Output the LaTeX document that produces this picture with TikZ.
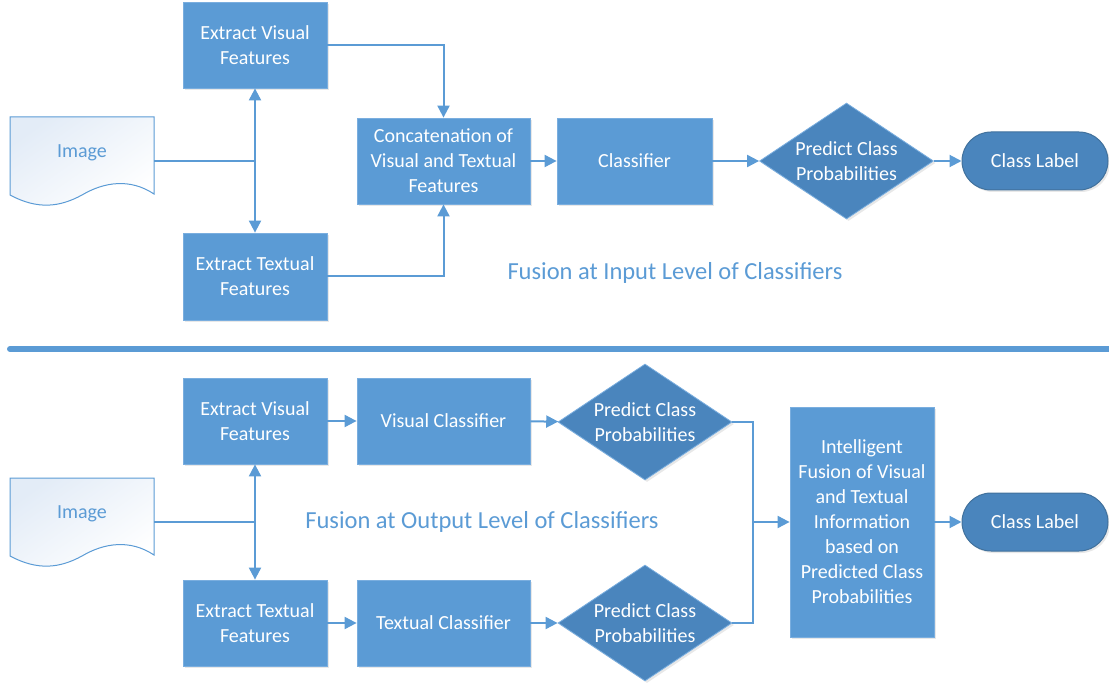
\documentclass[tikz,border=0pt]{standalone}
\usepackage{fontspec}
\setmainfont{Carlito}
\usetikzlibrary{arrows.meta,shapes.geometric,shadows}
\definecolor{boxblue}{HTML}{5B9BD5}
\definecolor{boxedge}{HTML}{7AAEDF}
\definecolor{darkblue}{HTML}{4A85BD}
\definecolor{darkedge}{HTML}{41719C}
\definecolor{lineblue}{HTML}{5B9BD5}
\definecolor{docfill}{HTML}{E3ECF7}
\tikzset{
  every node/.style={font=\fontsize{20}{25}\selectfont},
  proc/.style={rectangle, fill=boxblue, draw=boxedge, line width=0.8pt, text=white,
    align=center, inner sep=0pt, drop shadow={opacity=0.18, shadow xshift=2pt, shadow yshift=-2pt}},
  decide/.style={diamond, aspect=1.5, fill=darkblue, draw=boxedge, line width=0.8pt, text=white,
    align=center, inner sep=0pt, minimum width=174pt, minimum height=116pt,
    drop shadow={opacity=0.18, shadow xshift=2pt, shadow yshift=-2pt}},
  term/.style={rectangle, rounded corners=29pt, fill=darkblue, draw=darkedge, line width=1pt,
    text=white, minimum width=146pt, minimum height=58pt, inner sep=0pt,
    drop shadow={opacity=0.18, shadow xshift=2pt, shadow yshift=-2pt}},
  docnode/.style={rectangle, draw=none, text=lineblue, minimum width=144pt, minimum height=72pt, inner sep=0pt},
  conn/.style={draw=lineblue, line width=2pt},
  arr/.style={conn, -{Triangle[length=12pt,width=12pt]}},
  caption/.style={text=lineblue, font=\fontsize{24.5}{29}\selectfont},
}
\begin{document}
\begin{tikzpicture}[x=1pt,y=-1pt]
\useasboundingbox (0,0) rectangle (1109,687);

% ---------- top section ----------
\shade[top color=docfill, bottom color=white, shading angle=35, draw=lineblue, line width=1pt]
  (10,117) -- (154,117) -- (154,194)
  .. controls (130,178) and (104,182) .. (82,195)
  .. controls (60,207) and (38,210) .. (10,195) -- cycle;
\node[docnode] (img1) at (82,153) {Image};

\node[proc, minimum width=144pt, minimum height=86pt] (ev1) at (255,45) {Extract Visual\\Features};
\node[proc, minimum width=144pt, minimum height=87pt] (et1) at (255,276.5) {Extract Textual\\Features};
\node[proc, minimum width=173pt, minimum height=86pt] (cc1) at (443.5,161) {Concatenation of\\Visual and Textual\\Features};
\node[proc, minimum width=155pt, minimum height=86pt] (cl1) at (634.5,161) {Classifier};
\node[decide] (d1) at (846.5,161) {Predict Class\\Probabilities};
\node[term] (lab1) at (1035,161) {Class Label};
\node[caption] (cap1) at (675,273) {Fusion at Input Level of Classifiers};

\coordinate (j1) at (255,161);
\draw[conn] (img1.east |- j1) -- (j1);
\draw[arr] (j1) -- (ev1.south);
\draw[arr] (j1) -- (et1.north);
\draw[arr] (ev1.east) -| (cc1.north);
\draw[arr] (et1.east) -| (cc1.south);
\draw[arr] (cc1) -- (cl1);
\draw[arr] (cl1) -- (d1);
\draw[arr] (d1) -- (lab1);

% ---------- separator ----------
\draw[draw=lineblue, line width=6pt, line cap=round] (10,349) -- (1112,349);

% ---------- bottom section ----------
\shade[top color=docfill, bottom color=white, shading angle=35, draw=lineblue, line width=1pt]
  (10,478) -- (154,478) -- (154,555)
  .. controls (130,539) and (104,543) .. (82,556)
  .. controls (60,568) and (38,571) .. (10,556) -- cycle;
\node[docnode] (img2) at (82,514) {Image};

\node[proc, minimum width=144pt, minimum height=86pt] (ev2) at (255,421) {Extract Visual\\Features};
\node[proc, minimum width=144pt, minimum height=86pt] (et2) at (255,623) {Extract Textual\\Features};
\node[proc, minimum width=173pt, minimum height=86pt] (vc) at (443.5,421) {Visual Classifier};
\node[proc, minimum width=173pt, minimum height=86pt] (tc) at (443.5,623) {Textual Classifier};
\node[decide] (d2) at (645,422) {Predict Class\\Probabilities};
\node[decide] (d3) at (645,623) {Predict Class\\Probabilities};
\node[proc, minimum width=144pt, minimum height=230pt] (fus) at (862,522) {Intelligent\\Fusion of Visual\\and Textual\\Information\\based on\\Predicted Class\\Probabilities};
\node[term] (lab2) at (1035,522) {Class Label};
\node[caption] (cap2) at (482,522) {Fusion at Output Level of Classifiers};

\coordinate (j2) at (255,522);
\coordinate (m) at (753,522);
\draw[conn] (img2.east |- j2) -- (j2);
\draw[arr] (j2) -- (ev2.south);
\draw[arr] (j2) -- (et2.north);
\draw[arr] (ev2) -- (vc);
\draw[arr] (et2) -- (tc);
\draw[arr] (vc) -- (d2);
\draw[arr] (tc) -- (d3);
\draw[conn] (d2.east) -| (m);
\draw[conn] (d3.east) -| (m);
\draw[arr] (m) -- (fus.west);
\draw[arr] (fus) -- (lab2);
\end{tikzpicture}
\end{document}
